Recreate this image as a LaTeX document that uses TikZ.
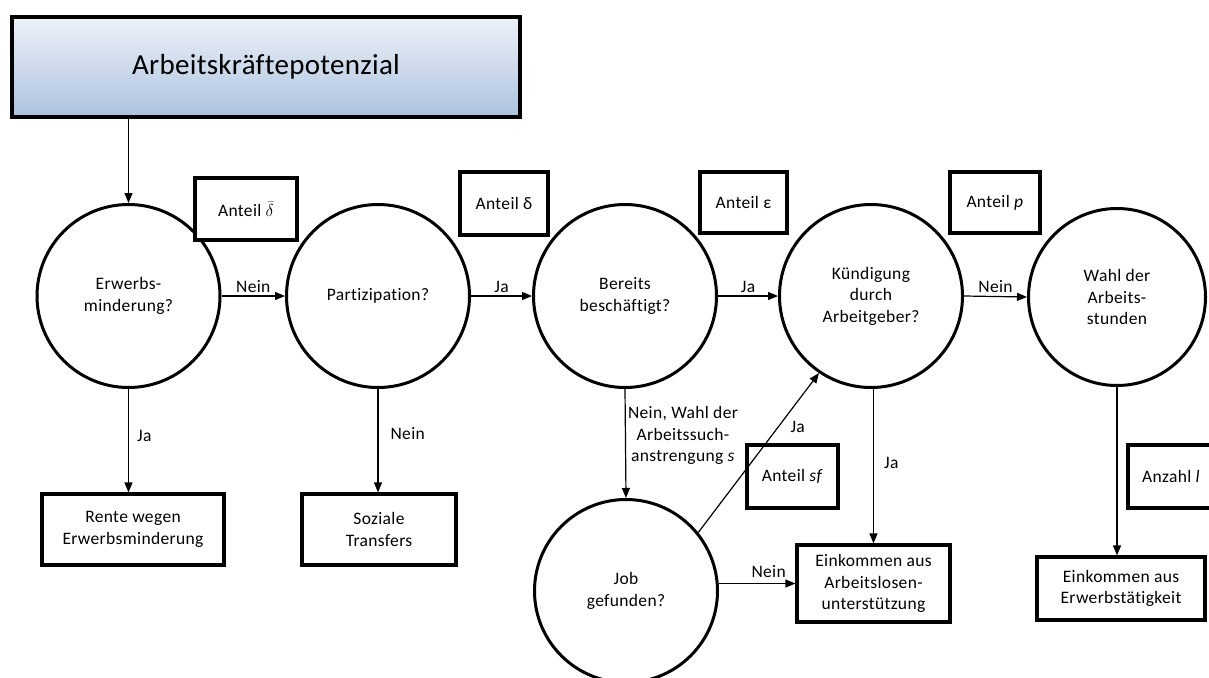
\documentclass[tikz,border=0pt]{standalone}
\usepackage{fontspec}
\setmainfont[LetterSpace=2,Ligatures=NoCommon]{Carlito}
\newfontfamily\titlefont[Ligatures=NoCommon,LetterSpace=1]{Carlito}
\usetikzlibrary{arrows.meta}
\definecolor{gradtop}{RGB}{238,242,249}
\definecolor{gradbot}{RGB}{172,194,222}
\begin{document}
\begin{tikzpicture}[x=1pt,y=-1pt,
  txt/.style={font=\fontsize{17.5}{21.5}\selectfont},
  decision/.style={circle,draw,line width=3pt,minimum size=183pt,inner sep=0pt,align=center,txt},
  outbox/.style={draw,fill=white,line width=3.2pt,align=center,inner sep=0pt,txt},
  sharebox/.style={draw,fill=white,line width=3.2pt,align=center,inner sep=0pt,txt},
  arr/.style={line width=1.2pt,-{Triangle[length=10pt,width=8pt]}},
  lbl/.style={txt,inner sep=2pt}]
\useasboundingbox (0,0) rectangle (1209,677);

% title box
\node[draw,line width=3.2pt,minimum width=508pt,minimum height=100pt,inner sep=0pt,
      top color=gradtop,bottom color=gradbot,font=\titlefont\fontsize{29}{34}\selectfont]
      (top) at (266,67) {Arbeitskr\"aftepotenzial};

% decision circles
\node[decision] (c1) at (128.5,296) {Erwerbs-\\minderung?};
\node[decision] (c2) at (378,296) {Partizipation?};
\node[decision] (c3) at (625,296) {Bereits\\besch\"aftigt?};
\node[decision] (c4) at (871,296) {K\"undigung\\durch\\Arbeitgeber?};
\node[decision,minimum size=177pt] (c5) at (1117,297) {Wahl der\\Arbeits-\\stunden};
\node[decision] (c6) at (626,591) {Job\\gefunden?};

% share boxes
\node[sharebox,minimum width=102pt,minimum height=62pt] (sd1) at (246,209) {Anteil $\bar{\delta}$};
\node[sharebox,minimum width=88pt,minimum height=63pt] (sd2) at (504,203.5) {Anteil δ};
\node[sharebox,minimum width=87pt,minimum height=61pt] (se) at (743.5,202.5) {Anteil ε};
\node[sharebox,minimum width=90pt,minimum height=61pt] (sp) at (995,202.5) {Anteil \textit{p}};
\node[sharebox,minimum width=91pt,minimum height=63pt] (ssf) at (792.5,476.5) {Anteil \textit{sf}};
\node[sharebox,minimum width=86pt,minimum height=63pt] (sl) at (1171,476.5) {Anzahl \textit{l}};

% outcome boxes
\node[outbox,minimum width=182pt,minimum height=71pt] (rente) at (133,529.5) {Rente wegen\\Erwerbsminderung};
\node[outbox,minimum width=154pt,minimum height=71pt] (soz) at (379,529.5) {Soziale\\Transfers};
\node[outbox,minimum width=153pt,minimum height=77pt] (alu) at (873.5,583.5) {Einkommen aus\\Arbeitslosen-\\unterst\"utzung};
\node[outbox,minimum width=168pt,minimum height=63pt] (erw) at (1121,588.5) {Einkommen aus\\Erwerbst\"atigkeit};

% connectors
\draw[arr] (top.south -| c1) -- (c1.north);
\draw[arr] (c1.east) -- node[lbl,above=1pt] {Nein} (c2.west);
\draw[arr] (c2.east) -- node[lbl,above=1pt] {Ja} (c3.west);
\draw[arr] (c3.east) -- node[lbl,above=1pt] {Ja} (c4.west);
\draw[arr] (c4.east) -- node[lbl,above=1pt] {Nein} (c5.west);

\draw[arr] (c1.south) -- node[lbl,pos=0.45,right=6pt] {Ja} (c1.south |- rente.north);
\draw[arr] (c2.south) -- node[lbl,pos=0.43,right=10pt] {Nein} (c2.south |- soz.north);
\draw[arr] (c3.south) -- node[lbl,pos=0.43,right=0pt,align=center] {Nein, Wahl der\\Arbeitssuch-\\anstrengung \textit{s}} (c6.north);
\draw[arr] (c4.south -| alu.north) -- node[lbl,pos=0.48,right=8pt] {Ja} (alu.north);
\draw[arr] (c5.south) -- (c5.south |- erw.north);

\draw[arr] (c6.39) -- node[lbl,pos=0.66,right=10pt] {Ja} (c4.-124);
\draw[arr] (alu.west -| c6.east) -- node[lbl,pos=0.65,above=3pt] {Nein} (alu.west);
\end{tikzpicture}
\end{document}
